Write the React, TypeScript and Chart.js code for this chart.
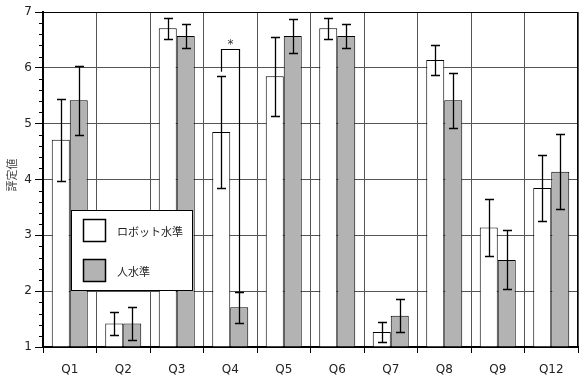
import React, { useEffect, useRef } from "react";
import { Chart, registerables } from "chart.js";

Chart.register(...registerables);

// Questions on the x axis
const categories = ["Q1", "Q2", "Q3", "Q4", "Q5", "Q6", "Q7", "Q8", "Q9", "Q12"];

// Mean ratings and their error half-widths
const robotMeans = [4.71, 1.42, 6.71, 4.85, 5.85, 6.71, 1.27, 6.14, 3.14, 3.85];
const robotErr = [0.74, 0.2, 0.19, 1.01, 0.71, 0.19, 0.18, 0.27, 0.51, 0.59];
const humanMeans = [5.42, 1.42, 6.57, 1.71, 6.57, 6.57, 1.56, 5.42, 2.56, 4.14];
const humanErr = [0.62, 0.3, 0.21, 0.28, 0.3, 0.21, 0.3, 0.49, 0.53, 0.67];

const seriesNames = ["ロボット水準", "人水準"];
const yTickValues = [1, 2, 3, 4, 5, 6, 7];
const yTitle = "評定値";

// Significance bracket
const sigIndex = 3;
const sigLevel = 6.33;
const sigMark = "*";

const WHITE = "#ffffff";
const GRAY = "#b3b3b3";
const TEXT = "#222222";
const FONT = "'DejaVu Sans', Verdana, sans-serif";
const CJK = "'Noto Sans CJK JP', sans-serif";

const overlayPlugin = {
  id: "overlay",
  afterDatasetsDraw(chart: any) {
    const ctx = chart.ctx;
    const y = chart.scales.y;
    const means = [robotMeans, humanMeans];
    const errs = [robotErr, humanErr];
    ctx.save();
    ctx.strokeStyle = "#000";
    ctx.lineWidth = 1.3;
    [0, 1].forEach((di) => {
      const meta = chart.getDatasetMeta(di);
      meta.data.forEach((bar: any, i: number) => {
        const m = means[di][i];
        const e = errs[di][i];
        const x = Math.round(bar.x) + 0.5;
        const yt = Math.round(y.getPixelForValue(m + e)) + 0.5;
        const yb = Math.round(y.getPixelForValue(m - e)) + 0.5;
        ctx.beginPath();
        ctx.moveTo(x, yt);
        ctx.lineTo(x, yb);
        ctx.moveTo(x - 4.5, yt);
        ctx.lineTo(x + 4.5, yt);
        ctx.moveTo(x - 4.5, yb);
        ctx.lineTo(x + 4.5, yb);
        ctx.stroke();
      });
    });

    // bracket between the two bars of one question
    const b0: any = chart.getDatasetMeta(0).data[sigIndex];
    const b1: any = chart.getDatasetMeta(1).data[sigIndex];
    const x0 = Math.round(b0.x) + 0.5;
    const x1 = Math.round(b1.x) + 0.5;
    const yTop = Math.round(y.getPixelForValue(sigLevel)) + 0.5;
    const yL = y.getPixelForValue(robotMeans[sigIndex] + robotErr[sigIndex]) - 4;
    const yR = y.getPixelForValue(humanMeans[sigIndex] + humanErr[sigIndex]);
    ctx.lineWidth = 1.2;
    ctx.beginPath();
    ctx.moveTo(x0, yL);
    ctx.lineTo(x0, yTop);
    ctx.lineTo(x1, yTop);
    ctx.lineTo(x1, yR);
    ctx.stroke();
    ctx.fillStyle = "#333";
    ctx.font = `12px ${FONT}`;
    ctx.textAlign = "center";
    ctx.textBaseline = "alphabetic";
    ctx.fillText(sigMark, (x0 + x1) / 2, yTop - 1.5);
    ctx.restore();
  },
  afterDraw(chart: any) {
    const ctx = chart.ctx;
    const { left, right, top } = chart.chartArea;
    const y = chart.scales.y;
    ctx.save();

    // top and right frame
    ctx.strokeStyle = "#000";
    ctx.lineWidth = 1;
    ctx.beginPath();
    ctx.moveTo(left, top + 0.5);
    ctx.lineTo(right - 0.5, top + 0.5);
    ctx.lineTo(right - 0.5, y.getPixelForValue(1));
    ctx.stroke();

    // minor ticks every 0.2
    ctx.beginPath();
    for (let v = 1; v < 7; v++) {
      for (let k = 1; k < 5; k++) {
        const py = Math.round(y.getPixelForValue(v + k * 0.2)) + 0.5;
        ctx.moveTo(left - 4, py);
        ctx.lineTo(left, py);
      }
    }
    ctx.stroke();

    // y axis title
    ctx.save();
    ctx.translate(12, 175);
    ctx.rotate(-Math.PI / 2);
    ctx.fillStyle = "#444";
    ctx.font = `11px ${CJK}`;
    ctx.textAlign = "center";
    ctx.textBaseline = "middle";
    ctx.fillText(yTitle, 0, 0);
    ctx.restore();

    // legend box
    const lx = 71.5, ly = 210.5, lw = 121, lh = 80;
    ctx.fillStyle = "#fff";
    ctx.fillRect(lx, ly, lw, lh);
    ctx.lineWidth = 1;
    ctx.strokeStyle = "#000";
    ctx.strokeRect(lx, ly, lw, lh);
    const swatches = [WHITE, GRAY];
    const rowY = [219, 259];
    swatches.forEach((c, i) => {
      ctx.fillStyle = c;
      ctx.fillRect(83, rowY[i], 23, 23);
      ctx.lineWidth = 1.5;
      ctx.strokeRect(83.5, rowY[i] + 0.5, 22, 22);
      ctx.fillStyle = TEXT;
      ctx.font = `11px ${CJK}`;
      ctx.textAlign = "left";
      ctx.textBaseline = "middle";
      ctx.fillText(seriesNames[i], 117, rowY[i] + 12.5);
    });
    ctx.restore();
  },
};

export default function App() {
  const canvasRef = useRef<HTMLCanvasElement | null>(null);

  useEffect(() => {
    if (!canvasRef.current) return;
    const chart = new Chart(canvasRef.current, {
      type: "bar",
      data: {
        labels: categories,
        datasets: [
          {
            label: seriesNames[0],
            data: robotMeans,
            backgroundColor: WHITE,
            borderColor: "#000",
            borderWidth: 1,
          },
          {
            label: seriesNames[1],
            data: humanMeans,
            backgroundColor: GRAY,
            borderColor: "#000",
            borderWidth: 1,
          },
        ],
      },
      options: {
        responsive: false,
        animation: false,
        layout: { padding: { left: 0, top: 12, right: 1, bottom: 0 } },
        datasets: {
          bar: { categoryPercentage: 0.673, barPercentage: 1, base: 1 },
        },
        plugins: {
          legend: { display: false },
          tooltip: { enabled: false },
        },
        scales: {
          x: {
            afterFit: (s: any) => {
              s.height = 33;
            },
            grid: {
              offset: true,
              color: "#555",
              lineWidth: 1,
              tickLength: 6,
              tickColor: "#000",
            },
            border: { color: "#000", width: 2 },
            ticks: {
              color: TEXT,
              font: { family: FONT, size: 12 },
              padding: 10,
            },
          },
          y: {
            min: 1,
            max: 7,
            afterFit: (s: any) => {
              s.width = 43;
            },
            afterBuildTicks: (s: any) => {
              s.ticks = yTickValues.map((v) => ({ value: v }));
            },
            grid: {
              color: "#555",
              lineWidth: 1,
              tickLength: 8,
              tickColor: "#000",
            },
            border: { color: "#000", width: 2 },
            ticks: {
              stepSize: 1,
              color: TEXT,
              font: { family: FONT, size: 12 },
              padding: 3,
            },
          },
        },
      },
      plugins: [overlayPlugin],
    });
    return () => chart.destroy();
  }, []);

  return (
    <div style={{ position: "fixed", left: 0, top: 0, width: 579, height: 380, background: "#fff" }}>
      <canvas ref={canvasRef} width={579} height={380} />
    </div>
  );
}
